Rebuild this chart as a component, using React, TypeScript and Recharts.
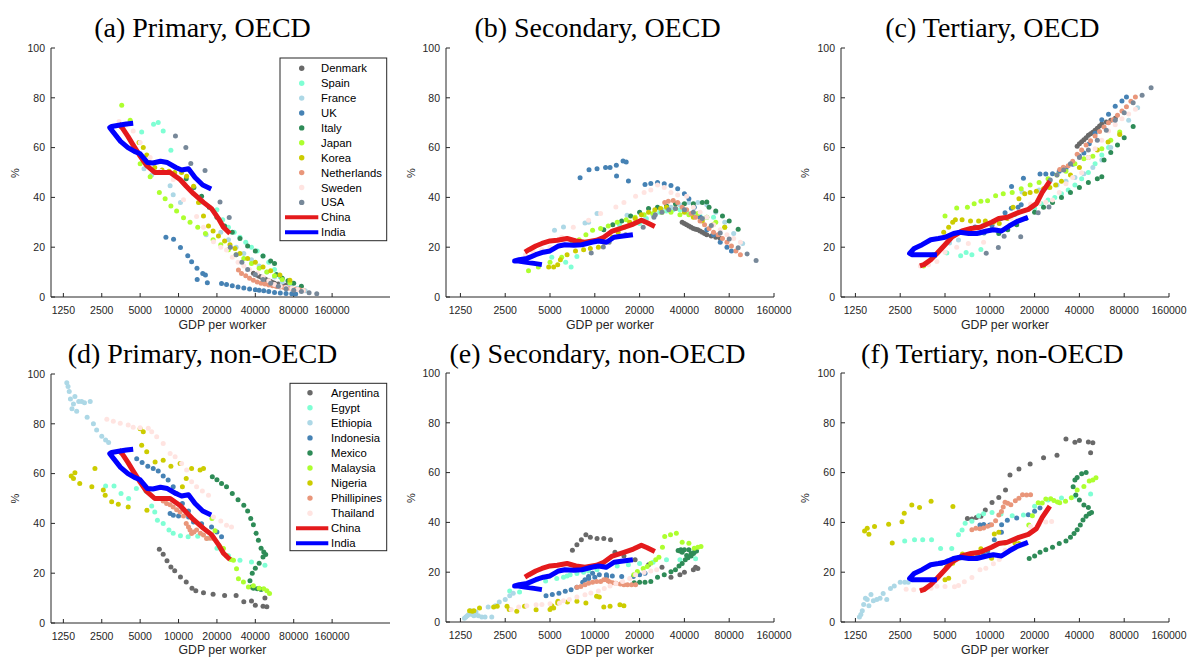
import { ScatterChart, Scatter, XAxis, YAxis } from "recharts";

const xTicks = [1250, 2500, 5000, 10000, 20000, 40000, 80000, 160000];
const yTicks = [0, 20, 40, 60, 80, 100];

// ---- China / India (thick lines, same in both rows)
const chinaGdp = [3390, 3610, 4010, 4410, 5000, 5590, 6510, 7470, 8590, 10280, 11490, 13110, 15690, 18150, 20560, 22500, 25320];
const chinaPrimary = [69.5, 68, 64.5, 61, 56.6, 53, 50, 50, 50, 47.2, 44.5, 41.5, 38, 35.5, 31.5, 28, 25.5];
const chinaSecondary = [18, 19, 20.5, 21.5, 22.5, 22.8, 23.5, 22.5, 22, 22.8, 24, 26.5, 28, 29.3, 30.8, 29.8, 28.3];
const chinaTertiary = [12.5, 13, 15, 17.5, 21, 24.2, 26.5, 27.5, 28, 30, 31.5, 32, 34, 35.2, 37.5, 42, 46.5];

const indiaGdp = [4410, 3900, 3390, 2990, 2890, 3100, 3510, 4010, 4510, 5000, 5710, 6290, 7220, 8180, 9530, 10570, 11970, 13470, 15480, 18030];
const indiaPrimary = [69.8, 69.5, 69, 68.5, 68, 66, 62.5, 60, 58.5, 57.5, 54, 53.8, 54.5, 54, 52, 51, 51.5, 48, 45, 43.4];
const indiaSecondary = [13, 13.5, 14, 14.5, 14.5, 15, 15.5, 17, 18, 18.5, 20.5, 21, 20.8, 21, 22, 22.5, 22, 24, 24.5, 25];
const indiaTertiary = [17, 17, 17, 17, 17.5, 19.5, 21, 23, 23.5, 24, 25.5, 26, 25.5, 25.5, 26.5, 27, 26.5, 28.5, 30.5, 32];

// ---- OECD
const denmarkGdp = [38640, 40000, 41410, 42870, 44380, 45950, 47570, 49240, 50980, 52780, 54640, 56570, 60630, 64980, 69640];
const denmarkPrimary = [9.5, 9, 8.7, 8.3, 8, 7.5, 7.2, 6.8, 6.5, 6.2, 5.8, 5.5, 5.2, 5, 4.7];
const denmarkSecondary = [30, 29.5, 29, 28.5, 28, 27.5, 27.2, 27, 26.5, 26, 25.5, 25, 24.5, 24, 23.5];
const denmarkTertiary = [60.5, 61.5, 62.3, 63.2, 64, 65, 65.6, 66.2, 67, 67.8, 68.7, 69.5, 70.3, 71, 71.8];

const spainGdp = [5140, 6370, 6930, 7580, 8710, 14640, 20000, 22190, 24620, 27320, 30310, 33640, 37320, 41410, 45950, 50980, 56570, 62770];
const spainPrimary = [66.3, 69.4, 70.1, 66.7, 58.9, 38, 35, 31, 28, 26, 24, 22, 20, 18.5, 16.5, 14, 11, 8];
const spainSecondary = [16, 14, 12, 16.3, 22, 29, 29.5, 31.5, 33, 34, 34.5, 35, 35, 34, 33.5, 32.5, 32, 32];
const spainTertiary = [17.7, 16.6, 17.9, 17, 19.1, 33, 35.5, 37.5, 39, 40, 41.5, 43, 45, 47.5, 50, 53.5, 57, 60];

const franceGdp = [5360, 6160, 8590, 9080, 10350, 16470, 21440, 24620, 28280, 32490, 37320, 42870, 49240, 56570, 64980, 74650, 85740, 98490];
const francePrimary = [51.5, 49, 44.7, 41.1, 38, 25, 26, 23, 20, 17.5, 15, 12.5, 10, 8, 6, 4.5, 3.5, 2.5];
const franceSecondary = [26.8, 28.1, 29.7, 30, 33.5, 32.8, 31, 33, 35, 36, 37, 38, 38, 37, 34, 30, 25.5, 21.5];
const franceTertiary = [21.7, 22.9, 25.6, 28.9, 28.5, 42.2, 43, 44, 45, 46.5, 48, 49.5, 52, 55, 60, 65.5, 71, 76];

const ukGdp = [7960, 9140, 10350, 11810, 12660, 13950, 14000, 15480, 16250, 16820, 21740, 23780, 26390, 29280, 32490, 36050, 40000, 42870, 46590, 50980, 56570, 62770, 69640, 77280, 82820];
const ukPrimary = [24, 23.2, 19.9, 16.6, 14.2, 11.5, 7, 9.4, 8.8, 5.7, 5.4, 5, 4.5, 4, 3.6, 3.2, 2.9, 2.7, 2.5, 2.2, 1.8, 1.6, 1.4, 1.3, 1.2];
const ukSecondary = [47.9, 51.1, 51.5, 52, 52, 52.9, 48.6, 54.6, 54.2, 46.6, 45.2, 45.6, 46, 45.5, 44.8, 43.5, 41.5, 39.5, 36, 32, 27, 25, 22, 20, 18.5];
const ukTertiary = [28.1, 25.7, 28.6, 31.4, 33.8, 35.6, 44.4, 36, 37, 47.7, 49.4, 49.4, 49.5, 50.5, 51.6, 53.3, 56.6, 57.8, 61.5, 65.8, 71.2, 73.4, 76.6, 78.7, 80.3];

const italyGdp = [11490, 13200, 15160, 17410, 20000, 22970, 26390, 30310, 34820, 40000, 45950, 52780, 56570, 58560, 64980, 72100, 80000, 91900];
const italyPrimary = [47.5, 44, 40.5, 36, 32, 28.5, 26, 23.5, 20.5, 18.5, 16.5, 14.5, 13.5, 9, 7.5, 6.5, 5.5, 4.3];
const italySecondary = [27, 29, 30.5, 32.5, 34, 35.5, 36, 36.5, 37.5, 37.5, 37.5, 38, 38.2, 36, 34.5, 32.5, 30.5, 27.2];
const italyTertiary = [25.5, 27, 29, 31.5, 34, 36, 38, 40, 42, 44, 46, 47.5, 48.3, 55, 58, 61, 64, 68.5];

const japanGdp = [3585, 4175, 5000, 5990, 7070, 7850, 8710, 9660, 10940, 12310, 14140, 16250, 18660, 21440, 24620, 28280, 32490, 37320, 42870, 49240, 56570, 64980, 74650];
const japanPrimary = [77, 71, 53.5, 48.3, 42, 39.5, 36.5, 34.5, 31.8, 30, 28, 25.5, 23, 21, 19, 17, 15.5, 13.5, 11.5, 10, 8.5, 7, 5.7];
const japanSecondary = [10.5, 12, 14, 16, 22, 23, 25, 26.8, 27.5, 28.5, 30, 31, 32, 33, 33.5, 34, 34, 33, 33, 33.5, 32, 30, 28];
const japanTertiary = [12.5, 17, 32.5, 35.7, 36, 37.5, 38.5, 38.7, 40.7, 41.5, 42, 43.5, 45, 46, 47.5, 49, 50.5, 53.5, 55.5, 56.5, 59.5, 63, 66.3];

const koreaGdp = [4900, 5290, 5630, 5870, 6510, 7420, 8410, 9330, 10570, 11570, 13110, 14340, 15690, 17170, 18660, 20560, 22970, 25320, 27710, 30310, 34820, 40000, 45950, 52780, 62340, 74650];
const koreaPrimary = [62, 60, 57, 54, 52, 51, 50.5, 50, 50, 48.5, 44.5, 38, 32.5, 28.5, 26.5, 24.5, 22.5, 21, 19.5, 17.5, 15.5, 14, 12, 10.5, 8.8, 6.7];
const koreaSecondary = [12, 12, 13, 15, 17, 18.5, 19, 19.5, 20, 22, 24, 26, 28, 30, 31.5, 33, 34, 35, 35.5, 36, 35.5, 34, 32, 30.5, 29, 28];
const koreaTertiary = [26, 28, 30, 31, 31, 30.5, 30.5, 30.5, 30, 29.5, 31.5, 36, 39.5, 41.5, 42, 42.5, 43.5, 44, 45, 46.5, 49, 52, 56, 59, 62.2, 65.3];

const netherlandsGdp = [29490, 31170, 33640, 36050, 38640, 41410, 44380, 47570, 50980, 54640, 58560, 62770, 67270, 72100, 77280, 82820, 88770, 95140];
const netherlandsPrimary = [10.8, 9.4, 8.5, 7.5, 6.7, 6, 5.5, 5.2, 4.8, 4.5, 4.2, 4, 3.8, 3.5, 3.3, 3.1, 2.9, 2.7];
const netherlandsSecondary = [38, 38.5, 38.8, 38, 36, 35, 33.5, 32, 30.5, 29, 27.5, 26, 25, 23.5, 22, 20.5, 18.5, 17];
const netherlandsTertiary = [51.2, 52.1, 52.7, 54.5, 57.3, 59, 61, 62.8, 64.7, 66.5, 68.3, 70, 71.2, 73, 74.7, 76.4, 78.6, 80.3];

const swedenGdp = [3415, 3870, 4410, 5000, 5990, 7170, 9080, 10940, 13850, 15690, 18790, 21440, 23780, 26390, 29280, 32490, 36050, 41410, 45950, 50980, 56570, 62770, 69640, 77280, 85740, 95140];
const swedenPrimary = [70.5, 69, 66.7, 62, 56, 50.5, 47.2, 39.1, 32.3, 28, 22.2, 20, 18.9, 16, 14, 12.5, 11, 9.6, 8, 6.5, 5, 4.3, 3.8, 3.4, 3, 2.6];
const swedenSecondary = [17, 18, 19, 20, 24, 28, 30.8, 33.5, 36.1, 38, 40.5, 42, 43, 45, 44, 42, 41, 40.5, 36, 34, 32, 29, 27, 25, 23.5, 22];
const swedenTertiary = [12.5, 13, 14.3, 18, 20, 21.5, 22, 27.4, 31.6, 34, 37.3, 38, 38.1, 39, 42, 45.5, 48, 49.9, 56, 59.5, 63, 66.7, 69.2, 71.6, 73.5, 75.4];

const usaGdp = [9460, 11410, 12480, 16130, 21140, 24970, 25490, 28280, 31380, 34820, 40000, 45950, 52780, 60630, 69640, 80000, 91900, 105560, 121260];
const usaPrimary = [64.7, 60, 53.6, 50.8, 38.2, 31.9, 20, 17, 14, 11, 9, 7, 5.5, 4.3, 3.3, 2.7, 2.2, 1.7, 1.3];
const usaSecondary = [17.7, 20.1, 22, 25, 28, 32, 33, 34, 35, 35.5, 35, 34, 31.5, 28.7, 25.7, 23.3, 19.8, 17.3, 14.7];
const usaTertiary = [17.6, 19.9, 24.4, 24.2, 33.8, 36.1, 47, 49, 51, 53.5, 56, 59, 63, 67, 71, 74, 78, 81, 84];

// ---- non-OECD
const argentinaGdp = [7070, 7580, 8120, 8710, 9330, 10350, 11490, 12750, 13660, 15690, 18660, 22970, 28280, 32490, 37320, 40000, 45950, 47570, 49240];
const argentinaPrimary = [29.6, 27.6, 25, 22.5, 21, 18.5, 16.5, 14, 13, 12.1, 11.5, 11, 11, 8.5, 8.8, 7.1, 6.7, 10, 6.5];
const argentinaSecondary = [28.8, 31, 33, 35, 34, 33.5, 33.5, 33, 28, 26.5, 25, 23, 22, 18, 19, 20, 21, 22, 21.5];
const argentinaTertiary = [41.6, 41.4, 42, 42.5, 45, 48, 50, 53, 59, 61.4, 63.5, 66, 67, 73.5, 72.2, 72.9, 72.3, 68, 72];

const egyptGdp = [2680, 3120, 3540, 4060, 4670, 5550, 6160, 6510, 6830, 7580, 8410, 9080, 10350, 11890, 14140, 16820, 20000, 24620, 30310, 37320, 47570];
const egyptPrimary = [55, 55, 52, 50, 54, 53, 47, 44.6, 41.3, 40, 37.3, 36, 35, 34.6, 34.8, 34, 30, 27, 25.2, 24.5, 23.2];
const egyptSecondary = [12.5, 12, 15, 17, 16.5, 17.5, 18, 18.5, 19, 19.5, 20, 20.5, 21, 22, 22.5, 23, 23.5, 24, 25, 25, 25.4];
const egyptTertiary = [32.5, 33, 33, 33, 29.5, 29.5, 35, 36.9, 39.7, 40.5, 42.7, 43.5, 44, 43.4, 42.7, 43, 46.5, 49, 49.8, 50.5, 51.4];

const ethiopiaGdp = [1330, 1360, 1390, 1420, 1460, 1500, 1540, 1590, 1650, 1740, 1830, 1920, 2030, 2150, 2280, 2500, 2680, 2830];
const ethiopiaPrimary = [96.5, 95, 93, 90, 86, 88, 91, 85, 89, 89, 88.5, 82.6, 89, 80, 77.5, 75, 73.5, 72.5];
const ethiopiaSecondary = [1.5, 2, 2.5, 3, 4.5, 3, 2.5, 4, 2.5, 2, 2, 6, 2, 6.5, 8, 9, 10.5, 11.5];
const ethiopiaTertiary = [2, 3, 4.5, 7, 9.5, 9, 6.5, 11, 8.5, 9, 9.5, 11.4, 9, 13.5, 14.5, 16, 16, 16];

const indonesiaGdp = [4700, 5180, 5740, 6330, 6930, 7580, 8290, 9080, 9660, 10720, 11970, 8590, 9100, 10000, 12000, 13110, 15160, 18150, 20000, 21740];
const indonesiaPrimary = [66, 64.5, 63, 62, 61, 59, 57.4, 54.7, 52, 48, 45, 44, 43.3, 43, 42.6, 40.6, 39.9, 38.6, 36.5, 34.6];
const indonesiaSecondary = [10.5, 11, 11.5, 12.3, 13, 14, 16, 18.3, 19.6, 19, 19, 17, 17.5, 18, 18.3, 18.5, 18.3, 18.3, 19, 19.6];
const indonesiaTertiary = [23.5, 24.5, 25.5, 25.7, 26, 27, 26.6, 27, 28.4, 33, 36, 39, 39.2, 39, 39.1, 40.9, 41.8, 43.1, 44.5, 45.8];

const mexicoGdp = [18400, 20000, 21740, 23780, 26390, 29280, 32490, 34820, 36810, 38640, 40560, 42280, 44380, 46590, 48240, 45950, 42870, 40000, 37840, 36300, 37320, 38640, 41410, 44380];
const mexicoPrimary = [58.7, 57.5, 56, 54.7, 52, 49.5, 47.3, 45, 42, 39.5, 36, 33.2, 30, 28.5, 27.5, 26.5, 24, 22, 20, 17, 14.5, 14, 13.8, 13.5];
const mexicoSecondary = [15.8, 16, 16, 16.3, 18, 19, 20.2, 21, 22.5, 23.5, 25, 25.8, 27.5, 28, 28.5, 27.5, 29, 29, 29, 28.7, 28.5, 28, 26.7, 26.5];
const mexicoTertiary = [25.5, 26.5, 28, 29, 30, 31.5, 32.5, 34, 35.5, 37, 39, 41, 42.5, 43.5, 44, 46, 47, 49, 51, 54.3, 57, 58, 59.5, 60];

const malaysiaGdp = [18280, 19320, 21140, 22500, 23780, 25670, 26950, 28480, 29490, 32270, 35310, 38640, 42870, 46590, 49240, 51700];
const malaysiaPrimary = [42, 37, 30.6, 29.9, 27, 25.5, 25.2, 21.8, 17.8, 16.5, 14.5, 15, 14, 13.8, 13, 11.8];
const malaysiaSecondary = [19, 20.3, 21.5, 22.3, 23.6, 25, 26, 30, 34.3, 35, 35.6, 32, 31.6, 29.6, 30, 30.3];
const malaysiaTertiary = [39, 42.7, 47.9, 47.8, 49.4, 49.5, 48.8, 48.2, 47.9, 48.5, 49.9, 53, 54.4, 56.6, 57, 57.9];

const nigeriaGdp = [1440, 1500, 1540, 1680, 2090, 2210, 2570, 2660, 2990, 3370, 4030, 5000, 5290, 5140, 5630, 5650, 6550, 7580, 8710, 10280, 10720, 11490, 12660, 14750, 15690];
const nigeriaPrimary = [59, 58, 60.3, 56, 54.7, 62, 53.4, 51.3, 48.7, 47.7, 46.6, 78, 76.8, 71.4, 68.8, 45.3, 64.7, 65.4, 63, 64.1, 54.7, 58, 62, 61.4, 62];
const nigeriaSecondary = [4.5, 4.3, 4.5, 5.6, 6, 6.3, 6.3, 5, 4.3, 6.3, 4.9, 5, 5.6, 6.5, 7.6, 8.3, 8, 8.3, 7.6, 10.3, 10, 6, 6.3, 6.9, 6.5];
const nigeriaTertiary = [36.5, 37.7, 35.2, 38.4, 39.3, 31.7, 40.3, 43.7, 47, 46, 48.5, 17, 17.6, 22.1, 23.6, 46.4, 27.3, 26.3, 29.4, 25.6, 35.3, 36, 31.7, 31.7, 31.5];

const philippinesGdp = [7580, 8060, 8590, 9080, 9660, 10280, 10940, 11490, 11970, 12310, 12660, 13200, 13850, 14850, 15690, 16590, 17660, 18790];
const philippinesPrimary = [49, 48, 47.5, 46.6, 45.5, 44.6, 43, 40, 38.6, 37.3, 35.9, 36.5, 37.3, 36, 35.3, 33.9, 34, 33.9];
const philippinesSecondary = [14, 14.3, 15, 15.6, 16, 16.3, 16.3, 17, 17, 16.5, 16, 15.8, 15.6, 15.3, 15, 15, 15, 15];
const philippinesTertiary = [37, 37.7, 37.5, 37.8, 38.5, 39.1, 40.7, 43, 44.4, 46.2, 48.1, 47.7, 47.1, 48.7, 49.7, 51.1, 51, 51.1];

const thailandGdp = [2740, 3080, 3490, 4030, 4410, 5000, 5790, 6160, 6740, 7580, 8590, 9400, 10570, 11570, 12660, 13850, 15370, 17170, 18790, 21440, 23780, 26030];
const thailandPrimary = [81.8, 81, 80.2, 79.5, 78.6, 78.4, 78.2, 76.8, 74.8, 72.1, 68.1, 66.8, 64.1, 61.4, 56.7, 54.7, 53, 51.3, 42.6, 41, 39.3, 38.6];
const thailandSecondary = [5, 6, 6.5, 6.9, 7, 7.3, 7.6, 8.5, 9, 10, 10.9, 11.6, 12.5, 13.5, 14.5, 15.5, 16.3, 17.5, 19, 19.9, 20.5, 21];
const thailandTertiary = [13.2, 13, 13.3, 13.6, 14.4, 14.3, 14.2, 14.7, 16.2, 17.9, 21, 21.6, 23.4, 25.1, 28.8, 29.8, 30.7, 31.2, 38.4, 39.1, 40.2, 40.4];

type Country = {
  name: string;
  color: string;
  gdp: number[];
  primary: number[];
  secondary: number[];
  tertiary: number[];
};
type Sector = "primary" | "secondary" | "tertiary";

const oecd: Country[] = [
  { name: "Denmark", color: "#696969", gdp: denmarkGdp, primary: denmarkPrimary, secondary: denmarkSecondary, tertiary: denmarkTertiary },
  { name: "Spain", color: "#7fffd4", gdp: spainGdp, primary: spainPrimary, secondary: spainSecondary, tertiary: spainTertiary },
  { name: "France", color: "#add8e6", gdp: franceGdp, primary: francePrimary, secondary: franceSecondary, tertiary: franceTertiary },
  { name: "UK", color: "#4682b4", gdp: ukGdp, primary: ukPrimary, secondary: ukSecondary, tertiary: ukTertiary },
  { name: "Italy", color: "#2e8b57", gdp: italyGdp, primary: italyPrimary, secondary: italySecondary, tertiary: italyTertiary },
  { name: "Japan", color: "#adff2f", gdp: japanGdp, primary: japanPrimary, secondary: japanSecondary, tertiary: japanTertiary },
  { name: "Korea", color: "#cccc00", gdp: koreaGdp, primary: koreaPrimary, secondary: koreaSecondary, tertiary: koreaTertiary },
  { name: "Netherlands", color: "#e9967a", gdp: netherlandsGdp, primary: netherlandsPrimary, secondary: netherlandsSecondary, tertiary: netherlandsTertiary },
  { name: "Sweden", color: "#ffe4e1", gdp: swedenGdp, primary: swedenPrimary, secondary: swedenSecondary, tertiary: swedenTertiary },
  { name: "USA", color: "#778899", gdp: usaGdp, primary: usaPrimary, secondary: usaSecondary, tertiary: usaTertiary },
];

const nonOecd: Country[] = [
  { name: "Argentina", color: "#696969", gdp: argentinaGdp, primary: argentinaPrimary, secondary: argentinaSecondary, tertiary: argentinaTertiary },
  { name: "Egypt", color: "#7fffd4", gdp: egyptGdp, primary: egyptPrimary, secondary: egyptSecondary, tertiary: egyptTertiary },
  { name: "Ethiopia", color: "#add8e6", gdp: ethiopiaGdp, primary: ethiopiaPrimary, secondary: ethiopiaSecondary, tertiary: ethiopiaTertiary },
  { name: "Indonesia", color: "#4682b4", gdp: indonesiaGdp, primary: indonesiaPrimary, secondary: indonesiaSecondary, tertiary: indonesiaTertiary },
  { name: "Mexico", color: "#2e8b57", gdp: mexicoGdp, primary: mexicoPrimary, secondary: mexicoSecondary, tertiary: mexicoTertiary },
  { name: "Malaysia", color: "#adff2f", gdp: malaysiaGdp, primary: malaysiaPrimary, secondary: malaysiaSecondary, tertiary: malaysiaTertiary },
  { name: "Nigeria", color: "#cccc00", gdp: nigeriaGdp, primary: nigeriaPrimary, secondary: nigeriaSecondary, tertiary: nigeriaTertiary },
  { name: "Phillipines", color: "#e9967a", gdp: philippinesGdp, primary: philippinesPrimary, secondary: philippinesSecondary, tertiary: philippinesTertiary },
  { name: "Thailand", color: "#ffe4e1", gdp: thailandGdp, primary: thailandPrimary, secondary: thailandSecondary, tertiary: thailandTertiary },
];

const lines: Country[] = [
  { name: "China", color: "#e41a1c", gdp: chinaGdp, primary: chinaPrimary, secondary: chinaSecondary, tertiary: chinaTertiary },
  { name: "India", color: "#0000ff", gdp: indiaGdp, primary: indiaPrimary, secondary: indiaSecondary, tertiary: indiaTertiary },
];

const toPoints = (gdp: number[], share: number[]) => gdp.map((x, i) => ({ x, y: share[i] }));

const AX = "#262626";
const SANS = "'Liberation Sans', Arial, sans-serif";
const SERIF = "'Liberation Serif', 'Times New Roman', serif";

function Panel(props: {
  left: number; top: number; plotW: number; plotH: number; xMax: number;
  countries: Country[]; sector: Sector;
}) {
  const { left, top, plotW, plotH, xMax, countries, sector } = props;
  const padL = 50, padT = 10, padR = 30, padB = 40;
  return (
    <div style={{ position: "absolute", left: left - padL, top: top - padT }}>
      <ScatterChart
        width={padL + plotW + padR}
        height={padT + plotH + padB}
        margin={{ top: padT, right: padR, bottom: 0, left: 0 }}
      >
        <XAxis
          type="number" dataKey="x" scale="log" domain={[1000, xMax]} allowDataOverflow
          ticks={xTicks} interval={0} height={padB} tickSize={-4} tickMargin={14}
          axisLine={{ stroke: AX }} tickLine={{ stroke: AX }}
          tick={{ fill: AX, fontSize: 10.5, fontFamily: SANS }}
        />
        <YAxis
          type="number" dataKey="y" domain={[0, 100]} ticks={yTicks} interval={0}
          width={padL} tickSize={-4} tickMargin={10}
          axisLine={{ stroke: AX }} tickLine={{ stroke: AX }}
          tick={{ fill: AX, fontSize: 10.5, fontFamily: SANS }}
        />
        {countries.map((c) => (
          <Scatter
            key={c.name}
            data={toPoints(c.gdp, c[sector])}
            isAnimationActive={false}
            shape={(p: any) => <circle cx={p.cx} cy={p.cy} r={2.5} fill={c.color} />}
          />
        ))}
        {lines.map((c) => (
          <Scatter
            key={c.name}
            data={toPoints(c.gdp, c[sector])}
            isAnimationActive={false}
            line={{ stroke: c.color, strokeWidth: 5, strokeLinejoin: "round" }}
            lineJointType="linear"
            shape={() => <g />}
          />
        ))}
      </ScatterChart>
    </div>
  );
}

function Legend(props: { x: number; y: number; w: number; h: number; rowY: number; step: number; markX: number; textX: number; lineX1: number; lineX2: number; countries: Country[] }) {
  const { x, y, w, h, rowY, step, markX, textX, lineX1, lineX2, countries } = props;
  return (
    <g>
      <rect x={x} y={y} width={w} height={h} fill="#fff" stroke={AX} strokeWidth={1} />
      {countries.map((c, i) => (
        <g key={c.name}>
          <circle cx={markX} cy={rowY + i * step} r={2.7} fill={c.color} />
          <text x={textX} y={rowY + i * step + 4} fontSize={11.3} fontFamily={SANS} fill="#000">{c.name}</text>
        </g>
      ))}
      {lines.map((c, j) => {
        const cy = rowY + (countries.length + j) * step;
        return (
          <g key={c.name}>
            <line x1={lineX1} x2={lineX2} y1={cy} y2={cy} stroke={c.color} strokeWidth={4} />
            <text x={textX} y={cy + 4} fontSize={11.3} fontFamily={SANS} fill="#000">{c.name}</text>
          </g>
        );
      })}
    </g>
  );
}

export default function App() {
  const panels = [
    { title: "(a) Primary, OECD", left: 51, top: 48, w: 339, xMax: 455000, c: oecd, s: "primary" as Sector, tx: 202.5, ty: 37, yl: 15, xl: 222.5 },
    { title: "(b) Secondary, OECD", left: 446, top: 48, w: 328, xMax: 160000, c: oecd, s: "secondary" as Sector, tx: 597.5, ty: 37, yl: 410.5, xl: 610 },
    { title: "(c) Tertiary, OECD", left: 841, top: 48, w: 328, xMax: 160000, c: oecd, s: "tertiary" as Sector, tx: 992.3, ty: 37, yl: 805, xl: 1005 },
    { title: "(d) Primary, non-OECD", left: 51, top: 373.5, w: 339, xMax: 455000, c: nonOecd, s: "primary" as Sector, tx: 202.5, ty: 363, yl: 15, xl: 222.5 },
    { title: "(e) Secondary, non-OECD", left: 446, top: 373, w: 328, xMax: 160000, c: nonOecd, s: "secondary" as Sector, tx: 597.5, ty: 363, yl: 410.5, xl: 610 },
    { title: "(f) Tertiary, non-OECD", left: 841, top: 373, w: 328, xMax: 160000, c: nonOecd, s: "tertiary" as Sector, tx: 992.3, ty: 363, yl: 805, xl: 1005 },
  ];
  return (
    <div style={{ position: "absolute", left: 0, top: 0, width: 1189, height: 657, background: "#fff", overflow: "hidden" }}>
      {panels.map((p) => (
        <Panel key={p.title} left={p.left} top={p.top} plotW={p.w} plotH={249} xMax={p.xMax} countries={p.c} sector={p.s} />
      ))}
      <svg width={1189} height={657} style={{ position: "absolute", left: 0, top: 0, pointerEvents: "none" }}>
        {panels.map((p) => (
          <g key={p.title}>
            <text x={p.tx} y={p.ty} textAnchor="middle" fontSize={28} fontFamily={SERIF} fill="#000">{p.title}</text>
            <text x={p.xl} y={p.top + 249 + 31.5} textAnchor="middle" fontSize={12.3} fontFamily={SANS} fill={AX}>GDP per worker</text>
            <text x={p.yl + 4} y={p.top + 125} textAnchor="middle" fontSize={11} fontFamily={SANS} fill={AX} transform={`rotate(-90 ${p.yl + 4} ${p.top + 125})`}>%</text>
          </g>
        ))}
        <Legend x={280} y={58} w={106.7} h={182.7} rowY={68.3} step={14.9} markX={301.7} textX={321} lineX1={285} lineX2={318.3} countries={oecd} />
        <Legend x={290} y={383.3} w={96.7} h={167.4} rowY={392.7} step={15.06} markX={310} textX={331} lineX1={296} lineX2={328.3} countries={nonOecd} />
      </svg>
    </div>
  );
}
